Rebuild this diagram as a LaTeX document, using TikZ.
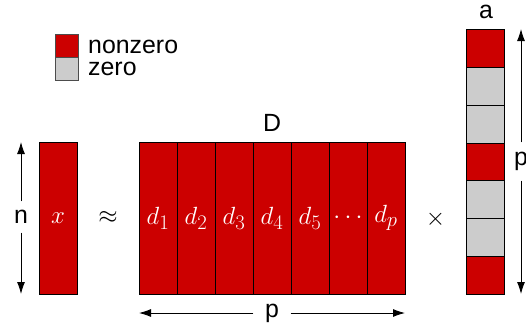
\documentclass[tikz,border=0pt]{standalone}
\usepackage{fontspec}
\setmainfont{Liberation Sans}
\usetikzlibrary{arrows.meta}
\definecolor{nzred}{HTML}{CC0000}
\definecolor{zgray}{HTML}{CCCCCC}
\begin{document}
\begin{tikzpicture}[x=1pt,y=-1pt,
  font=\fontsize{24.88}{30}\selectfont,
  cell/.style={draw=black, line width=0.8pt, inner sep=0pt, minimum width=38pt, text=white},
  col/.style={cell, fill=nzred, minimum height=152pt},
  nz/.style={cell, fill=nzred, minimum height=37.9pt},
  zr/.style={cell, fill=zgray, minimum height=37.9pt},
  leg/.style={draw=black!70, line width=1pt, inner sep=0pt, minimum width=23pt, minimum height=23pt},
  lbl/.style={inner sep=0pt},
  dim/.style={line width=0.9pt, -{Latex[length=12pt,width=8pt]}},
]
\useasboundingbox (0,0) rectangle (526,332);
% legend
\node[leg, fill=nzred] (lnz) at (66.5,45.8) {};
\node[leg, fill=zgray] (lzr) at (66.5,68.8) {};
\node[lbl, anchor=base west] (tnz) at (88,53.3) {nonzero};
\node[lbl, anchor=base west] (tzr) at (88,75) {zero};
% x
\node[col] (x) at (58,218) {$x$};
\coordinate (ntop) at (21,142);
\coordinate (nbot) at (21,294);
\node[lbl, minimum height=31pt] (nl) at (21,217) {n};
\draw[dim] (nl) -- (ntop);
\draw[dim] (nl) -- (nbot);
\node[lbl] (approx) at (108,217.5) {$\approx$};
% D
\node[col] (d1) at (158,218) {$d_1$};
\node[col] (d2) at (196,218) {$d_2$};
\node[col] (d3) at (234,218) {$d_3$};
\node[col] (d4) at (272,218) {$d_4$};
\node[col] (d5) at (310,218) {$d_5$};
\node[col] (d6) at (348,218) {$\cdots$};
\node[col] (d7) at (386,218) {$d_p$};
\node[lbl, anchor=base] (D) at (272,131.7) {D};
\coordinate (pleft) at (139,313);
\coordinate (pright) at (405,313);
\node[lbl, minimum width=37pt] (pl) at (272,313) {p};
\draw[dim] (pl) -- (pleft);
\draw[dim] (pl) -- (pright);
\node[lbl] (times) at (435.5,219) {$\times$};
% a
\node[nz] (a1) at (485.7,48.2) {};
\node[zr] (a2) at (485.7,86.1) {};
\node[zr] (a3) at (485.7,124.0) {};
\node[nz] (a4) at (485.7,161.9) {};
\node[zr] (a5) at (485.7,199.8) {};
\node[zr] (a6) at (485.7,237.7) {};
\node[nz] (a7) at (485.7,275.6) {};
\node[lbl, anchor=base] (alab) at (486,18) {a};
\coordinate (atop) at (521,29);
\coordinate (abot) at (521,294);
\node[lbl, minimum height=38pt] (pr) at (521,161.5) {p};
\draw[dim] (pr) -- (atop);
\draw[dim] (pr) -- (abot);
\end{tikzpicture}
\end{document}
